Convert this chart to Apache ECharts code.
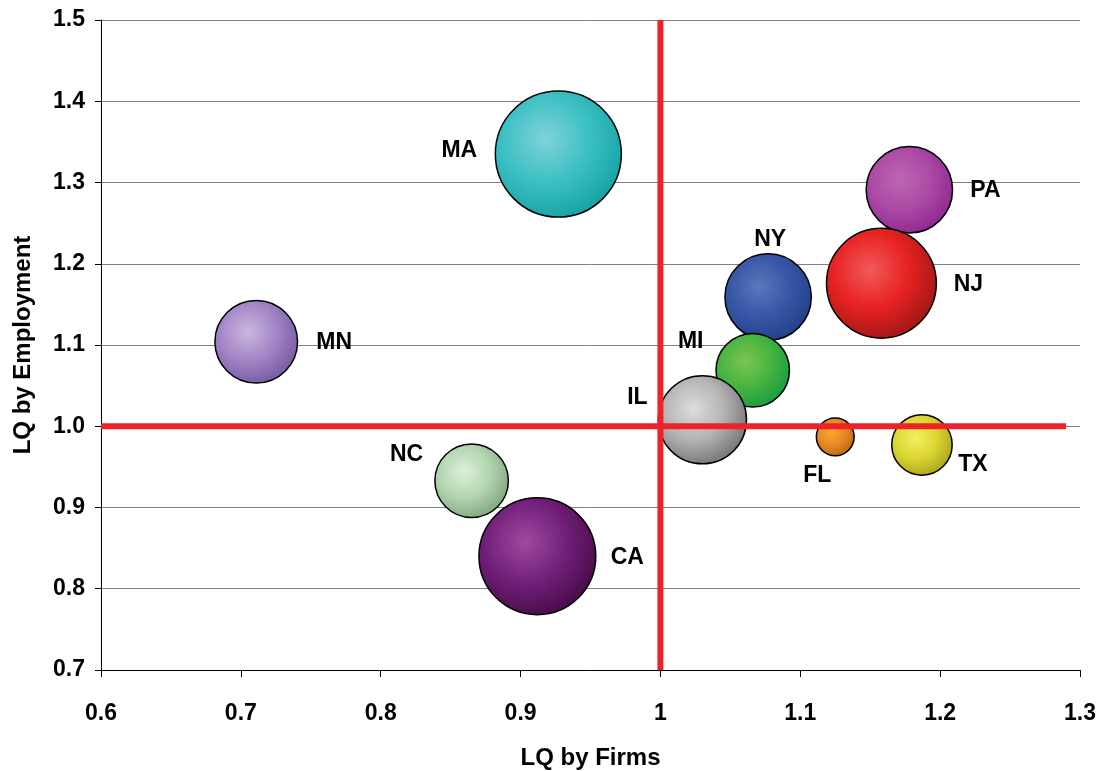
<!DOCTYPE html>
<html>
<head>
<meta charset="utf-8">
<script src="https://cdn.jsdelivr.net/npm/echarts@6/dist/echarts.min.js"></script>
<style>
  html, body { margin: 0; padding: 0; background: #fff; }
  #chart { width: 1102px; height: 771px; }
</style>
</head>
<body>
<div id="chart"></div>
<script>
// state data: LQ by firms (x), LQ by employment (y), bubble size
const states = ['MA', 'PA', 'NJ', 'NY', 'MI', 'IL', 'FL', 'TX', 'MN', 'NC', 'CA'];
const lqFirms = [0.927, 1.178, 1.158, 1.077, 1.066, 1.030, 1.125, 1.187, 0.711, 0.865, 0.912];
const lqEmployment = [1.335, 1.291, 1.176, 1.159, 1.069, 1.008, 0.987, 0.977, 1.104, 0.933, 0.840];
const bubbleSize = [100, 47, 76, 47, 34, 49, 9, 23, 43, 34, 86];

const xTicks = { min: 0.6, max: 1.3, interval: 0.1 };
const yTicks = { min: 0.7, max: 1.5, interval: 0.1 };
const refX = 1;
const refY = 1;
const refYLineEnd = 1.29;

// look: [inner, mid, outer] gradient colours, label offset from bubble centre
const look = {
  MA: { c: ['#80d2da', '#3cc0c4', '#1aa6a6'], off: [-99, -3] },
  PA: { c: ['#bc68b0', '#ac4aa6', '#922c92'], off: [76, 1] },
  NJ: { c: ['#f05a5a', '#e82222', '#a81818'], off: [87, 1] },
  NY: { c: ['#5a78bc', '#3856a6', '#24448e'], off: [2, -57] },
  MI: { c: ['#7cc452', '#48b440', '#1ea040'], off: [-62, -29] },
  IL: { c: ['#dcdcdc', '#b4b4b4', '#7c7c7c'], off: [-65, -22] },
  FL: { c: ['#fca634', '#e88a22', '#bc6c16'], off: [-18, 39] },
  TX: { c: ['#f4f064', '#dcd630', '#aeaa22'], off: [51, 20] },
  MN: { c: ['#ccb6de', '#a286c6', '#7c5ea6'], off: [78, 1] },
  NC: { c: ['#dcefdc', '#b2d6b0', '#86ac86'], off: [-65, -26] },
  CA: { c: ['#a04aa0', '#72207a', '#4c0e4e'], off: [90, 1] }
};

const fontFamily = '"Liberation Sans", Arial, sans-serif';

const bubbles = states.map((s, i) => ({
  name: s,
  value: [lqFirms[i], lqEmployment[i], bubbleSize[i]],
  itemStyle: {
    color: new echarts.graphic.RadialGradient(0.4, 0.38, 0.62, [
      { offset: 0, color: look[s].c[0] },
      { offset: 0.55, color: look[s].c[1] },
      { offset: 1, color: look[s].c[2] }
    ])
  },
  label: { offset: look[s].off }
}));

const chart = echarts.init(document.getElementById('chart'));
chart.setOption({
  animation: false,
  backgroundColor: '#ffffff',
  grid: { left: 101, right: 22, top: 20, bottom: 101, containLabel: false, outerBoundsMode: 'none' },
  xAxis: {
    type: 'value',
    min: xTicks.min,
    max: xTicks.max,
    interval: xTicks.interval,
    name: 'LQ by Firms',
    nameLocation: 'middle',
    nameGap: 76,
    nameTextStyle: { fontFamily, fontWeight: 'bold', fontSize: 24, color: '#000' },
    axisLine: { onZero: false, lineStyle: { color: '#000', width: 1 } },
    axisTick: { show: true, inside: false, length: 7, lineStyle: { color: '#000' } },
    axisLabel: { fontFamily, fontWeight: 'bold', fontSize: 23, color: '#000', margin: 32 },
    splitLine: { show: false }
  },
  yAxis: {
    type: 'value',
    min: yTicks.min,
    max: yTicks.max,
    interval: yTicks.interval,
    name: 'LQ by Employment',
    nameLocation: 'middle',
    nameGap: 66,
    nameTextStyle: { fontFamily, fontWeight: 'bold', fontSize: 24, color: '#000' },
    axisLine: { show: true, onZero: false, lineStyle: { color: '#000', width: 1 } },
    axisTick: { show: true, inside: false, length: 6, lineStyle: { color: '#000' } },
    axisLabel: {
      fontFamily, fontWeight: 'bold', fontSize: 23, color: '#000', margin: 16,
      formatter: (v) => v.toFixed(1)
    },
    splitLine: { show: true, lineStyle: { color: '#808080', width: 1 } }
  },
  series: [
    {
      name: 'states',
      type: 'scatter',
      data: bubbles,
      symbolSize: (v) => 12.6 * Math.sqrt(v[2]),
      itemStyle: { borderColor: '#000', borderWidth: 1.5, opacity: 1 },
      label: {
        show: true,
        position: 'inside',
        formatter: (p) => p.name,
        fontFamily,
        fontWeight: 'bold',
        fontSize: 23,
        color: '#000'
      },
      z: 2
    },
    {
      name: 'refX',
      type: 'line',
      data: [[refX, yTicks.min], [refX, yTicks.max]],
      symbol: 'none',
      lineStyle: { color: '#ee2229', width: 6 },
      silent: true,
      z: 5
    },
    {
      name: 'refY',
      type: 'line',
      data: [[xTicks.min, refY], [refYLineEnd, refY]],
      symbol: 'none',
      lineStyle: { color: '#ee2229', width: 6 },
      silent: true,
      z: 5
    }
  ]
});
</script>
</body>
</html>
